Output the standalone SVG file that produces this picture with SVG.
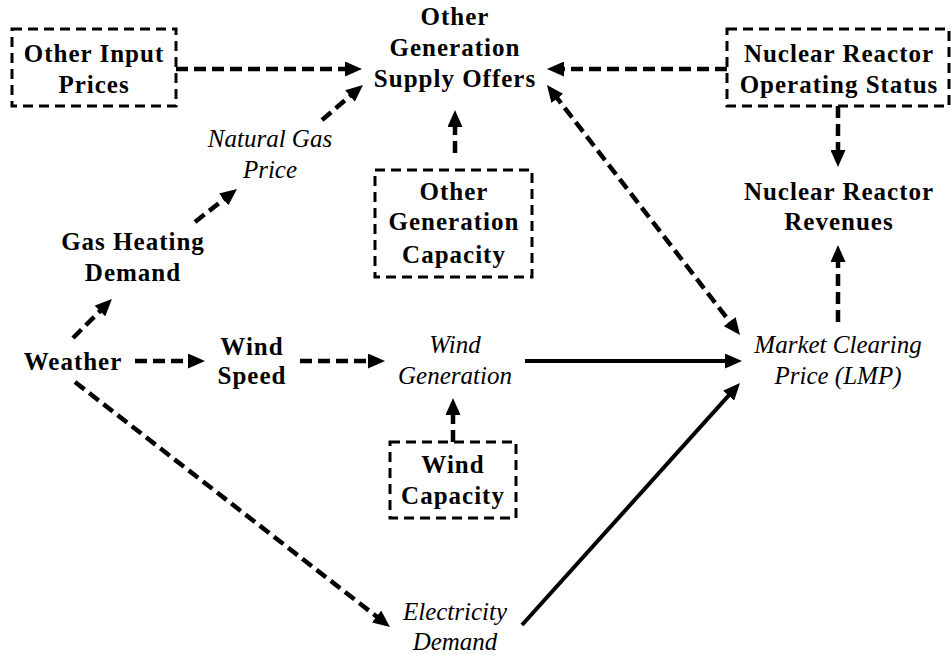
<svg xmlns="http://www.w3.org/2000/svg" width="951" height="655" viewBox="0 0 951 655">
<style>
.b{font-family:"Liberation Serif","Times New Roman",serif;font-weight:bold;font-size:25px;letter-spacing:1px;text-anchor:middle;fill:#000}
.i{font-family:"Liberation Serif","Times New Roman",serif;font-style:italic;font-size:25px;text-anchor:middle;fill:#000}
.box{fill:none;stroke:#000;stroke-width:3;stroke-dasharray:10 6}
.d{fill:none;stroke:#000;stroke-width:4.5;stroke-dasharray:12 6;marker-end:url(#ah)}
.s{fill:none;stroke:#000;stroke-width:4;marker-end:url(#ah)}
</style>
<defs>
<marker id="ah" viewBox="0 0 17 15" markerWidth="17" markerHeight="15" refX="6" refY="7.5" orient="auto-start-reverse" markerUnits="userSpaceOnUse">
<path d="M0,0 L17,7.5 L0,15 z" fill="#000"/>
</marker>
</defs>
<rect width="951" height="655" fill="#fff"/>
<g id="connectors">
<line class="d" x1="176" y1="69" x2="351" y2="69"/>
<line class="d" x1="727" y1="69" x2="558" y2="69"/>
<line class="d" x1="838" y1="106" x2="838" y2="156"/>
<line class="d" x1="838" y1="322" x2="838" y2="256"/>
<line class="d" x1="553.7" y1="93.7" x2="733.3" y2="326.3" style="marker-start:url(#ah)"/>
<line class="s" x1="525" y1="361" x2="731" y2="361"/>
<line class="s" x1="522" y1="625" x2="732.6" y2="391.2"/>
<line class="d" x1="135" y1="361" x2="194" y2="361"/>
<line class="d" x1="300" y1="361" x2="374" y2="361"/>
<line class="d" x1="453" y1="442" x2="453" y2="409"/>
<line class="d" x1="75" y1="382" x2="381.3" y2="620.2"/>
<line class="d" x1="73" y1="338" x2="104.2" y2="306.8"/>
<line class="d" x1="195" y1="222" x2="228.4" y2="195.8"/>
<line class="d" x1="322" y1="120" x2="354.6" y2="92.1"/>
<line class="d" x1="455" y1="153" x2="455" y2="121"/>
</g>
<g id="other-input-prices">
<rect class="box" x="12" y="29" width="164" height="77"/>
<text class="b" x="94" y="62">Other Input</text>
<text class="b" x="94" y="93">Prices</text>
</g>
<g id="supply-offers">
<text class="b" x="455" y="25">Other</text>
<text class="b" x="455" y="56">Generation</text>
<text class="b" x="455" y="87">Supply Offers</text>
</g>
<g id="nuclear-status">
<rect class="box" x="727" y="29" width="222" height="77"/>
<text class="b" x="839" y="62">Nuclear Reactor</text>
<text class="b" x="839" y="93">Operating Status</text>
</g>
<g id="nuclear-revenues">
<text class="b" x="839" y="200">Nuclear Reactor</text>
<text class="b" x="839" y="230">Revenues</text>
</g>
<g id="other-gen-capacity">
<rect class="box" x="375" y="170" width="157" height="107"/>
<text class="b" x="454" y="200">Other</text>
<text class="b" x="454" y="230">Generation</text>
<text class="b" x="454" y="263">Capacity</text>
</g>
<g id="natural-gas-price">
<text class="i" x="270" y="147">Natural Gas</text>
<text class="i" x="270" y="178">Price</text>
</g>
<g id="gas-heating-demand">
<text class="b" x="133" y="250">Gas Heating</text>
<text class="b" x="133" y="281">Demand</text>
</g>
<g id="weather">
<text class="b" x="73" y="370">Weather</text>
</g>
<g id="wind-speed">
<text class="b" x="252" y="355">Wind</text>
<text class="b" x="252" y="384">Speed</text>
</g>
<g id="wind-generation">
<text class="i" x="455" y="353">Wind</text>
<text class="i" x="455" y="384">Generation</text>
</g>
<g id="wind-capacity">
<rect class="box" x="390" y="442" width="126" height="76"/>
<text class="b" x="453" y="473">Wind</text>
<text class="b" x="453" y="504">Capacity</text>
</g>
<g id="lmp">
<text class="i" x="838" y="353">Market Clearing</text>
<text class="i" x="838" y="384">Price (LMP)</text>
</g>
<g id="electricity-demand">
<text class="i" x="455" y="620">Electricity</text>
<text class="i" x="455" y="650">Demand</text>
</g>
</svg>
